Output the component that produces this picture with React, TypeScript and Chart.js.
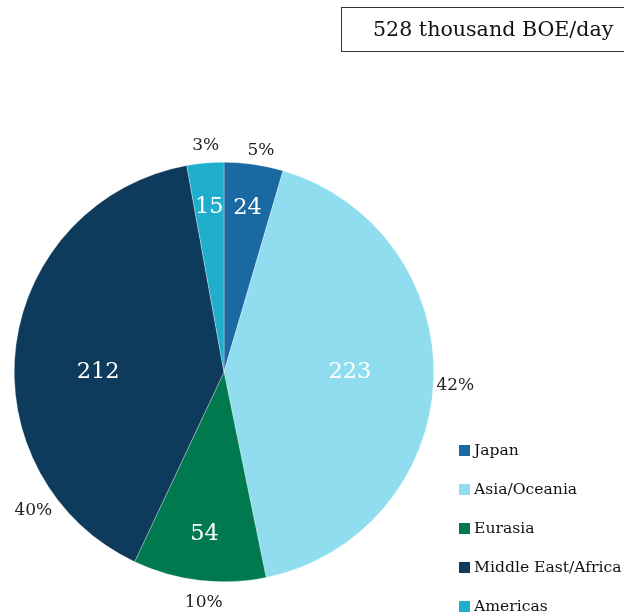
import React, { useEffect, useRef } from "react";
import { Chart, registerables } from "chart.js";

Chart.register(...registerables);

const categories = ["Japan", "Asia/Oceania", "Eurasia", "Middle East/Africa", "Americas"];
const values = [24, 223, 54, 212, 15];
const colors = ["#1B69A3", "#8FDDEE", "#01794F", "#0E3A5C", "#1FAECC"];
const titleText = "528 thousand BOE/day";

// label placement tweaks (style only)
const innerFrac = [0.79, 0.6, 0.78, 0.6, 0.79];
const innerAngleOffset = [0, -2.4, 0, -7.5, 0];
const outerAngleOffset = [1.3, 1.0, -1.8, -43.5, 0.5];
const outerRadiusAdd = [15, 22, 22, 26, 17];

const FONT = "'DejaVu Serif', serif";

const labelPlugin = {
  id: "customLabels",
  afterDraw(chart: any) {
    const ctx = chart.ctx;
    const meta = chart.getDatasetMeta(0);
    const total = values.reduce((a, b) => a + b, 0);
    ctx.save();
    meta.data.forEach((arc: any, i: number) => {
      const { x, y, startAngle, endAngle, outerRadius } = arc.getProps(
        ["x", "y", "startAngle", "endAngle", "outerRadius"],
        true
      );
      const mid = (startAngle + endAngle) / 2;
      const ai = mid + (innerAngleOffset[i] * Math.PI) / 180;
      const ri = outerRadius * innerFrac[i];
      ctx.fillStyle = "#ffffff";
      ctx.font = `22.5px ${FONT}`;
      ctx.textAlign = "center";
      ctx.textBaseline = "middle";
      ctx.fillText(String(values[i]), x + Math.cos(ai) * ri, y + Math.sin(ai) * ri);
      const a = mid + (outerAngleOffset[i] * Math.PI) / 180;
      const ro = outerRadius + outerRadiusAdd[i];
      ctx.fillStyle = "#222222";
      ctx.font = `17px ${FONT}`;
      const pct = Math.round((values[i] / total) * 100) + "%";
      ctx.fillText(pct, x + Math.cos(a) * ro, y + Math.sin(a) * ro);
    });

    // legend
    const lx = 459;
    const ly0 = 450;
    const gap = 39;
    ctx.textAlign = "left";
    ctx.textBaseline = "middle";
    ctx.font = `15.6px ${FONT}`;
    categories.forEach((c, i) => {
      const ly = ly0 + i * gap;
      ctx.fillStyle = colors[i];
      ctx.fillRect(lx, ly - 5, 11, 11);
      ctx.fillStyle = "#111111";
      ctx.fillText(c, lx + 15, ly + 1);
    });

    // title box
    ctx.strokeStyle = "#333333";
    ctx.lineWidth = 1;
    ctx.strokeRect(341.5, 7.5, 300, 44);
    ctx.fillStyle = "#111111";
    ctx.font = `20.6px ${FONT}`;
    ctx.textAlign = "left";
    ctx.fillText(titleText, 373, 31);
    ctx.restore();
  },
};

export default function App() {
  const ref = useRef<HTMLCanvasElement | null>(null);
  useEffect(() => {
    if (!ref.current) return;
    const chart = new Chart(ref.current, {
      type: "pie",
      data: {
        labels: categories,
        datasets: [
          {
            data: values,
            backgroundColor: colors,
            borderColor: "rgba(255,255,255,0.6)",
            borderWidth: 0.5,
          },
        ],
      },
      options: {
        responsive: false,
        animation: false,
        layout: { padding: { left: 14, top: 162, right: 190, bottom: 33 } },
        plugins: { legend: { display: false }, tooltip: { enabled: false }, title: { display: false } },
      },
      plugins: [labelPlugin],
    });
    return () => chart.destroy();
  }, []);
  return (
    <div style={{ position: "fixed", left: 0, top: 0, width: 624, height: 615, background: "#fff" }}>
      <canvas ref={ref} width={624} height={615} style={{ width: 624, height: 615 }} />
    </div>
  );
}
